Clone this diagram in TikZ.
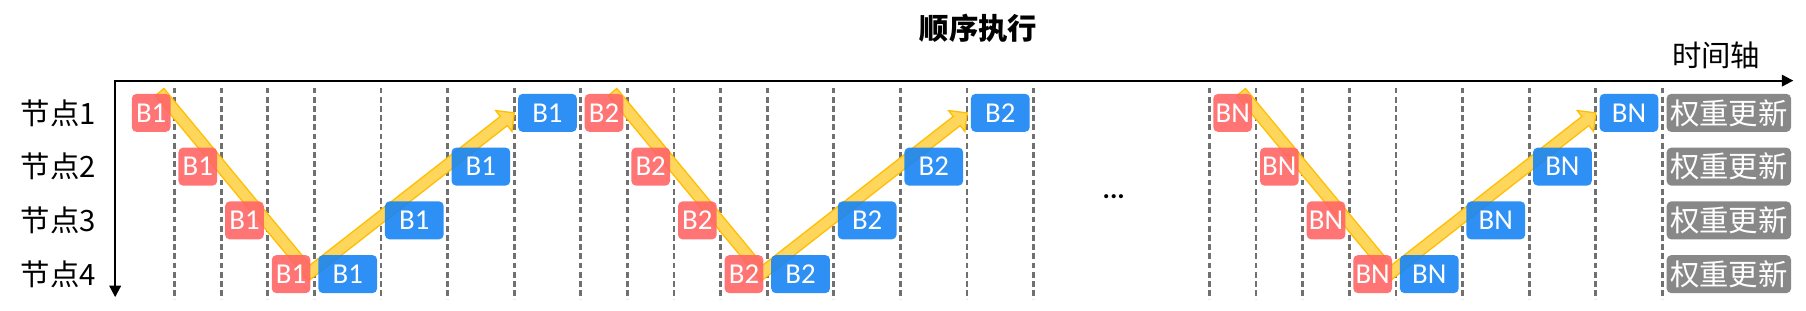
\documentclass[tikz,border=0pt]{standalone}
\usepackage{fontspec}
\setmainfont{Carlito}
\newfontfamily\cjk{Noto Sans CJK SC}
\usetikzlibrary{arrows.meta}
\definecolor{redc}{RGB}{255,102,102}
\definecolor{bluec}{RGB}{23,132,244}
\definecolor{grayc}{RGB}{136,136,136}
\definecolor{dashc}{RGB}{112,112,112}
\definecolor{bandfill}{RGB}{255,214,92}
\definecolor{bandline}{RGB}{255,190,0}
\tikzset{
  boxbase/.style={rounded corners=4pt, minimum height=33pt, inner sep=0pt, text=white, fill opacity=0.9, text opacity=1},
  redbox/.style={boxbase, fill=redc, minimum width=33.6pt, font=\fontsize{25}{30}\selectfont},
  bluebox/.style={boxbase, fill=bluec, minimum width=51pt, font=\fontsize{25}{30}\selectfont},
  graybox/.style={boxbase, fill=grayc, fill opacity=1, minimum width=108pt, font=\cjk\fontsize{25.5}{30}\selectfont},
  gridline/.style={draw=dashc, line width=2.5pt, dash pattern=on 5pt off 3pt},
  axisline/.style={line width=1.8pt, line join=miter, {Triangle[length=10pt,width=10pt]}-{Triangle[length=10pt,width=10pt]}},
  band/.style={fill=bandfill, draw=bandline, line width=1.1pt, line join=miter},
  rowlabel/.style={anchor=west, inner sep=0pt, font=\cjk\fontsize{25.5}{30}\selectfont},
}
\begin{document}
\begin{tikzpicture}[x=1pt,y=-1pt]
\useasboundingbox (0,0) rectangle (1568,270);
% title and axis label
\node[inner sep=0pt, font=\cjk\bfseries\fontsize{25.5}{30}\selectfont] (title) at (849.5,24.5) {顺序执行};
\node[inner sep=0pt, font=\cjk\fontsize{25.5}{30}\selectfont] (tlabel) at (1490,47.7) {时间轴};
% row labels
\foreach \r in {1,...,4} {
  \node[rowlabel] (n\r) at (18,{98+46.67*(\r-1)}) {节点\r};
}
% dashed grid
\foreach \off in {0,393.2,939} {
  \foreach \k in {1,...,4} \draw[gridline] ({111+\off+40.5*\k},76) -- ++(0,184);
  \foreach \j in {1,...,4} \draw[gridline] ({273+\off+57.8*\j},76) -- ++(0,184);
}
\draw[gridline] (1050,76) -- ++(0,184);
% axes
\coordinate (O) at (100,70);
\coordinate (xend) at (1557,70);
\coordinate (yend) at (100,258);
\draw[axisline] (yend) -- (O) -- (xend);
% sections
\foreach \s/\off/\lab in {1/0/B1, 2/393.2/B2, 3/939/BN} {
  \begin{scope}[shift={(\off,0)}]
    \draw[band] (134.65,83.19) -- (267.75,243.93) -- (440.51,109.02) -- (444.51,114.15)
      -- (446.5,98) -- (430.35,96.01) -- (434.35,101.14) -- (269.25,230.07) -- (142.35,76.81) -- cycle;
  \end{scope}
  \foreach \k in {0,...,3} {
    \node[redbox] (r\s\k) at ({111+\off+40.5*(\k+0.5)},{98+46.67*\k}) {\lab};
  }
  \foreach \j in {0,...,3} {
    \node[bluebox] (b\s\j) at ({273+\off+57.8*(\j+0.5)},{238-46.67*\j}) {\lab};
  }
}
% weight update boxes
\foreach \r in {1,...,4} {
  \node[graybox] (g\r) at (1501,{98+46.67*(\r-1)}) {权重更新};
}
% ellipsis
\node[anchor=base, inner sep=0pt, font=\bfseries\fontsize{24}{28}\selectfont] (dots) at (967,172.5) {...};
\end{tikzpicture}
\end{document}
